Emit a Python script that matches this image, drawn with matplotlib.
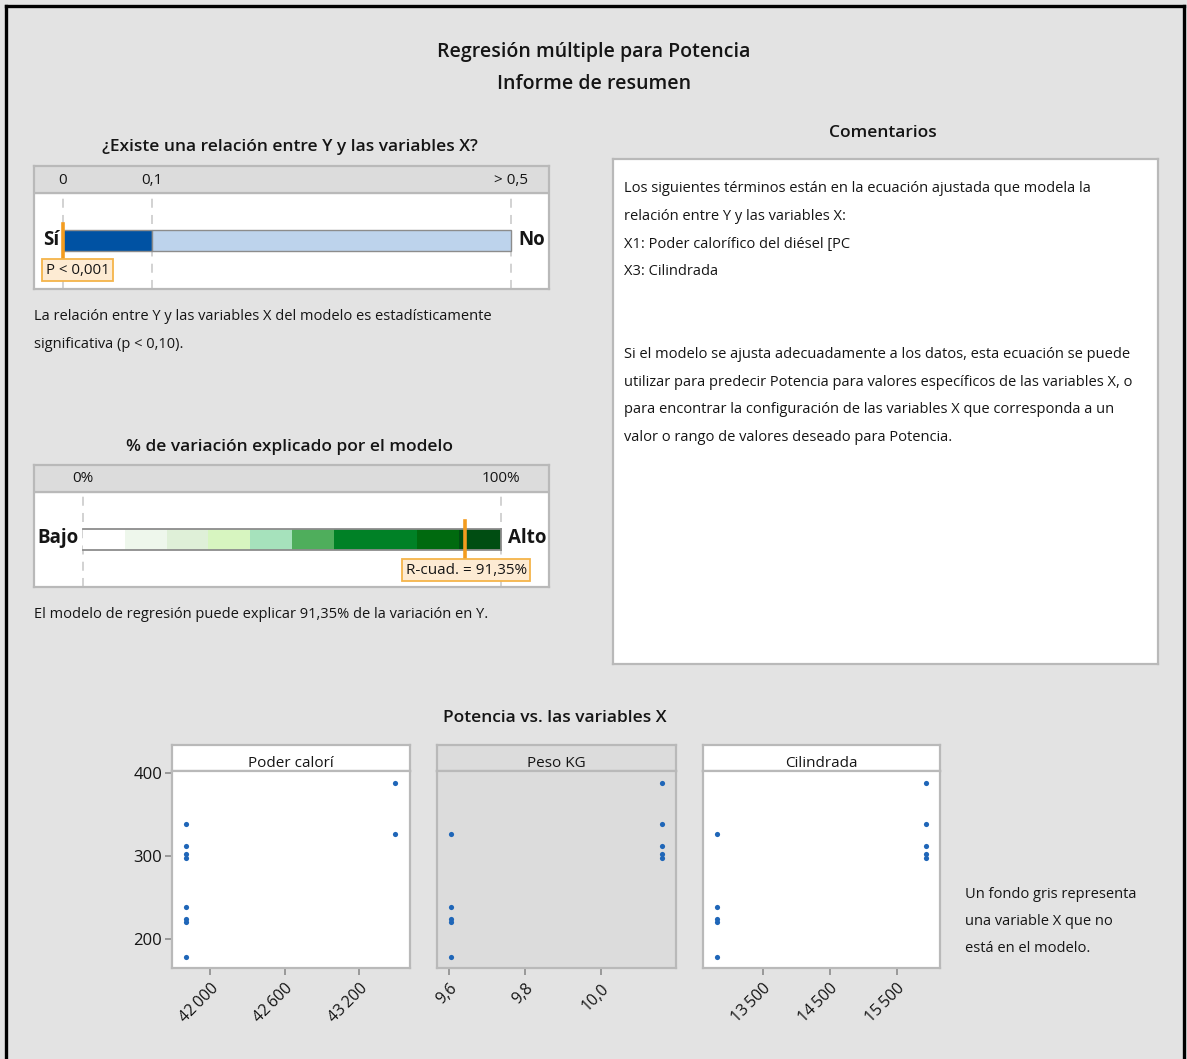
import matplotlib
matplotlib.use("Agg")
import matplotlib.pyplot as plt
from matplotlib.lines import Line2D
from matplotlib.scale import FuncScale
import numpy as np

# ---------------- data ----------------
p_value = 0.0005            # shown as "P < 0,001"
p_ticks = [0, 0.1, 0.5]
p_tick_labels = ["0", "0,1", "> 0,5"]
p_alpha = 0.1

r_sq = 91.35
r_ticks = [0, 100]
r_tick_labels = ["0%", "100%"]
r_bands = [0, 10, 20, 30, 40, 50, 60, 80, 90, 100]
r_band_colors = ["#ffffff", "#eef7ec", "#dff0d8", "#d7f5c0", "#a6e2bc",
                 "#4fae5c", "#008126", "#006a0f", "#004d12"]

potencia = [388, 339, 312, 303, 298, 327, 239, 224, 220, 178]
poder_calorifico = [43489, 41807, 41807, 41807, 41807, 43489, 41807, 41807, 41807, 41807]
peso_kg = [10.16, 10.16, 10.16, 10.16, 10.16, 9.606, 9.606, 9.606, 9.606, 9.606]
cilindrada = [15942, 15942, 15942, 15942, 15942, 12813, 12813, 12813, 12813, 12813]

panel_titles = ["Poder calorí", "Peso KG", "Cilindrada"]
panel_in_model = [True, False, True]
panel_xticks = [[42000, 42600, 43200], [9.6, 9.8, 10.0], [13500, 14500, 15500]]
panel_xticklabels = [["42\u2009000", "42\u2009600", "43\u2009200"],
                     ["9,6", "9,8", "10,0"],
                     ["13\u2009500", "14\u2009500", "15\u2009500"]]
panel_xlims = [(41692, 43607), (9.568, 10.197), (12604, 16146)]
y_ticks = [200, 300, 400]
y_lim = (165, 403)

comment_lines = [
    "Los siguientes términos están en la ecuación ajustada que modela la",
    "relación entre Y y las variables X:",
    "X1: Poder calorífico del diésel [PC",
    "X3: Cilindrada",
    "",
    "",
    "Si el modelo se ajusta adecuadamente a los datos, esta ecuación se puede",
    "utilizar para predecir Potencia para valores específicos de las variables X, o",
    "para encontrar la configuración de las variables X que corresponda a un",
    "valor o rango de valores deseado para Potencia.",
]

# ---------------- style ----------------
W, H = 1187, 1059
BG = "#e3e3e3"
FRAME = "#b9b9b9"
HEAD = "#dcdcdc"
ORANGE = "#f39c1f"
TXT = "#151515"
FAM = ["Open Sans", "DejaVu Sans"]
plt.rcParams["font.family"] = FAM
plt.rcParams["text.color"] = TXT
plt.rcParams["xtick.color"] = TXT
plt.rcParams["ytick.color"] = TXT

fig = plt.figure(figsize=(W / 100, H / 100), dpi=100, facecolor=BG)


def px_axes(x0, y0, x1, y1, **kw):
    return fig.add_axes([x0 / W, 1 - y1 / H, (x1 - x0) / W, (y1 - y0) / H], **kw)


def fx(x):
    return x / W


def fy(y):
    return 1 - y / H


# outer frame (open at the bottom)
for xs, ys in [([6, 6], [H, 6]), ([6, 1184], [6, 6]), ([1184, 1184], [6, H])]:
    fig.add_artist(Line2D([fx(v) for v in xs], [fy(v) for v in ys], color="black", lw=2.4,
                          solid_capstyle="projecting"))

# titles
fig.text(fx(594), fy(52), "Regresión múltiple para Potencia", ha="center", va="center",
         fontsize=14, fontweight="semibold")
fig.text(fx(594), fy(84), "Informe de resumen", ha="center", va="center",
         fontsize=14, fontweight="semibold")
fig.text(fx(290), fy(147), "¿Existe una relación entre Y y las variables X?", ha="center",
         va="center", fontsize=12.5, fontweight="semibold")
fig.text(fx(290), fy(447), "% de variación explicado por el modelo", ha="center",
         va="center", fontsize=12.5, fontweight="semibold")
fig.text(fx(883), fy(133), "Comentarios", ha="center", va="center", fontsize=12.5,
         fontweight="semibold")
fig.text(fx(555), fy(718), "Potencia vs. las variables X", ha="center", va="center",
         fontsize=12.5, fontweight="semibold")


def style_box(ax, head_frac):
    ax.set_facecolor("white")
    ax.set_ylim(0, 1)
    ax.set_yticks([])
    ax.set_xticks([])
    for s in ax.spines.values():
        s.set_color(FRAME)
        s.set_linewidth(1.6)
    ax.axhspan(head_frac, 1, color=HEAD, zorder=0)
    ax.axhline(head_frac, color=FRAME, lw=1.6)


# ---------------- p-value box ----------------
def p_fwd(x):
    x = np.asarray(x, dtype=float)
    return np.where(x < 0.1, x * 890.0, 89.0 + (x - 0.1) * 897.5)


def p_inv(v):
    v = np.asarray(v, dtype=float)
    return np.where(v < 89.0, v / 890.0, 0.1 + (v - 89.0) / 897.5)


ax1 = px_axes(34, 166, 549, 289)
ax1.set_xscale(FuncScale(ax1.xaxis, (p_fwd, p_inv)))
ax1.set_xlim(-0.0326, 0.5423)
style_box(ax1, 0.78)
for t, lab in zip(p_ticks, p_tick_labels):
    ax1.plot([t, t], [0, 0.78], color="#cfcfcf", lw=1.3, ls=(0, (5, 4)), zorder=1)
    ax1.text(t, 0.886, lab, ha="center", va="center", fontsize=11)
ax1.barh(0.395, p_alpha - p_ticks[0], left=p_ticks[0], height=0.171, color="#0052a3",
         edgecolor="#8c8c8c", lw=1, zorder=2)
ax1.barh(0.395, p_ticks[-1] - p_alpha, left=p_alpha, height=0.171, color="#bdd3ec",
         edgecolor="#8c8c8c", lw=1, zorder=2)
ax1.plot([p_value, p_value], [0.22, 0.53], color=ORANGE, lw=2.6, zorder=4)
ax1.text(-0.0045, 0.398, "Sí", ha="right", va="center", fontsize=13.5, fontweight="bold")
ax1.text(0.508, 0.398, "No", ha="left", va="center", fontsize=13.5, fontweight="bold")
ax1.text(-0.0195, 0.154, "P < 0,001", ha="left", va="center", fontsize=10.8, zorder=5,
         bbox=dict(boxstyle="square,pad=0.22", fc="#fdebd3", ec="#f5b44a", lw=1.3))

fig.text(fx(34), fy(316), "La relación entre Y y las variables X del modelo es estadísticamente",
         ha="left", va="center", fontsize=10.5)
fig.text(fx(34), fy(344), "significativa (p < 0,10).", ha="left", va="center", fontsize=10.5)

# ---------------- R-squared box ----------------
ax2 = px_axes(34, 465, 549, 587)
ax2.set_xlim(-11.7, 111.5)
style_box(ax2, 0.779)
for t, lab in zip(r_ticks, r_tick_labels):
    ax2.plot([t, t], [0, 0.779], color="#cfcfcf", lw=1.3, ls=(0, (5, 4)), zorder=1)
    ax2.text(t, 0.886, lab, ha="center", va="center", fontsize=11)
for lo, hi, c in zip(r_bands[:-1], r_bands[1:], r_band_colors):
    ax2.barh(0.389, hi - lo, left=lo, height=0.172, color=c, lw=0, zorder=2)
ax2.plot([0, 100], [0.475, 0.475], color="#8c8c8c", lw=1.3, zorder=3)
ax2.plot([0, 100], [0.303, 0.303], color="#8c8c8c", lw=1.3, zorder=3)
ax2.plot([100, 100], [0.303, 0.475], color="#8c8c8c", lw=1.3, zorder=3)
ax2.plot([r_sq, r_sq], [0.221, 0.541], color=ORANGE, lw=2.6, zorder=4)
ax2.text(-1, 0.398, "Bajo", ha="right", va="center", fontsize=13.5, fontweight="bold")
ax2.text(101.8, 0.398, "Alto", ha="left", va="center", fontsize=13.5, fontweight="bold")
ax2.text(106.2, 0.139, "R-cuad. = " + f"{r_sq:.2f}".replace(".", ",") + "%", ha="right",
         va="center", fontsize=11, zorder=5,
         bbox=dict(boxstyle="square,pad=0.22", fc="#fdebd3", ec="#f5b44a", lw=1.3))

fig.text(fx(34), fy(615),
         "El modelo de regresión puede explicar " + f"{r_sq:.2f}".replace(".", ",")
         + "% de la variación en Y.", ha="left", va="center", fontsize=10.5)

# ---------------- comments box ----------------
ax3 = px_axes(613, 159, 1158, 664)
ax3.set_facecolor("white")
ax3.set_xticks([])
ax3.set_yticks([])
for s in ax3.spines.values():
    s.set_color(FRAME)
    s.set_linewidth(1.6)
for i, line in enumerate(comment_lines):
    fig.text(fx(624), fy(189 + 27.6 * i), line, ha="left", va="center", fontsize=10.5)

# ---------------- scatter panels ----------------
panel_x = [(172, 410), (437, 676), (703, 940)]
xdata = [poder_calorifico, peso_kg, cilindrada]
for k, (x0, x1) in enumerate(panel_x):
    face = "white" if panel_in_model[k] else HEAD
    hax = px_axes(x0, 745, x1, 771)
    hax.set_facecolor(face)
    hax.set_xticks([])
    hax.set_yticks([])
    for s in hax.spines.values():
        s.set_color(FRAME)
        s.set_linewidth(1.6)
    hax.text(0.5, 0.3, panel_titles[k], ha="center", va="center", fontsize=11,
             transform=hax.transAxes)

    ax = px_axes(x0, 771, x1, 968)
    ax.set_facecolor(face)
    ax.scatter(xdata[k], potencia, s=14, color="#1f66b8", lw=0, zorder=3)
    ax.set_xlim(*panel_xlims[k])
    ax.set_ylim(*y_lim)
    ax.set_xticks(panel_xticks[k])
    ax.set_xticklabels(panel_xticklabels[k], rotation=45, ha="right",
                       rotation_mode="anchor", fontsize=11.5)
    ax.tick_params(axis="x", length=5, width=1.2, color="#8c8c8c", pad=4)
    if k == 0:
        ax.set_yticks(y_ticks)
        ax.set_yticklabels([str(v) for v in y_ticks], fontsize=12)
        ax.tick_params(axis="y", length=5, width=1.2, color="#8c8c8c", pad=2)
    else:
        ax.set_yticks([])
    for s in ax.spines.values():
        s.set_color(FRAME)
        s.set_linewidth(1.6)

note = ["Un fondo gris representa", "una variable X que no", "está en el modelo."]
for i, line in enumerate(note):
    fig.text(fx(965), fy(894 + 27.5 * i), line, ha="left", va="center", fontsize=10.5)

fig.savefig("out.png", dpi=100, facecolor=BG)
